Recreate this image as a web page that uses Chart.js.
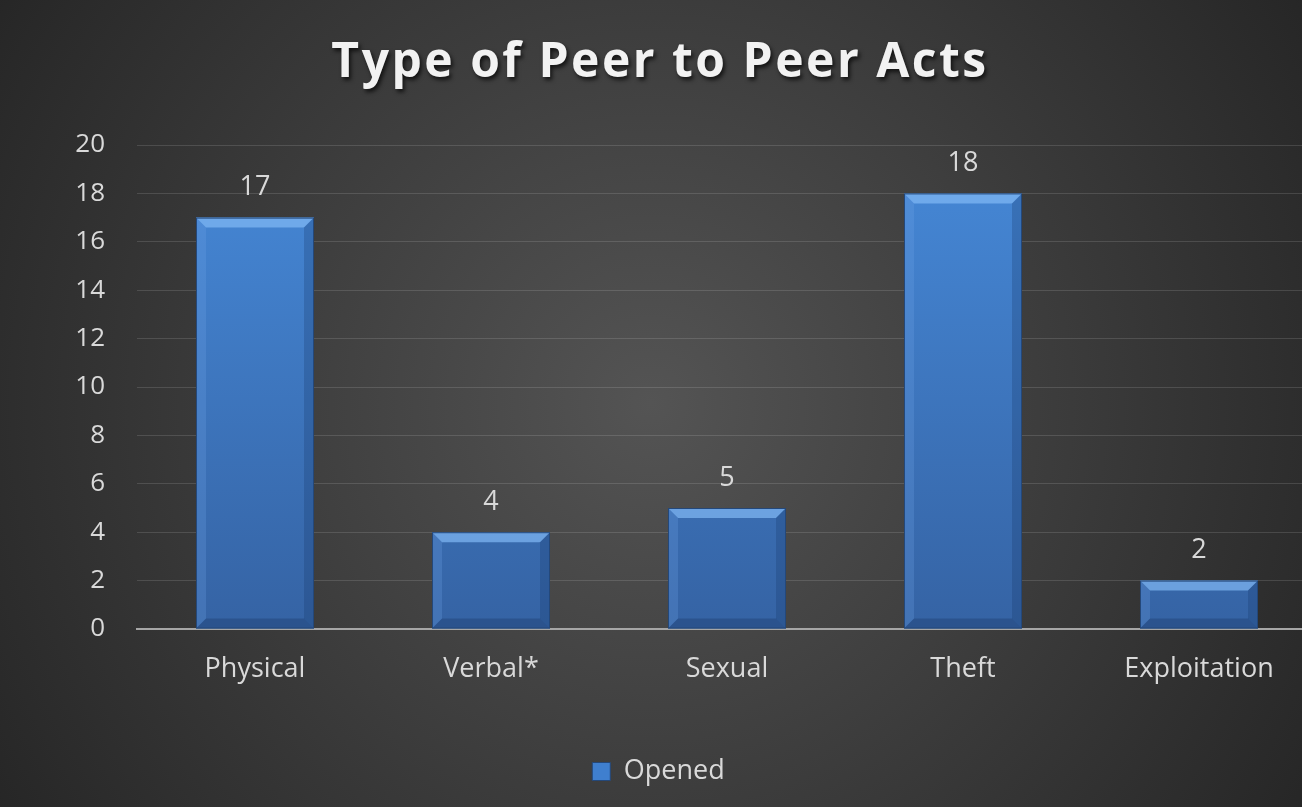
<!DOCTYPE html>
<html>
<head>
<meta charset="utf-8">
<script src="https://cdn.jsdelivr.net/npm/chart.js@4/dist/chart.umd.min.js"></script>
<style>
  html, body { margin: 0; padding: 0; background: #2b2b2b; overflow: hidden; }
  /* the plot runs a little past the right edge in the original, so the canvas is wider than the view */
  #wrap { width: 1302px; height: 807px; overflow: hidden; }
</style>
</head>
<body>
<div id="wrap"><canvas id="myChart" width="1317" height="807"></canvas></div>
<script>
// chart data
const chartTitle = 'Type of Peer to Peer Acts';
const categories = ['Physical', 'Verbal*', 'Sexual', 'Theft', 'Exploitation'];
const openedValues = [17, 4, 5, 18, 2];
const yTicks = [0, 2, 4, 6, 8, 10, 12, 14, 16, 18, 20];

const labelFont = '"Open Sans", sans-serif';
const viewW = 1302;

// dark radial background like the office theme
const bgPlugin = {
  id: 'bg',
  beforeDraw(chart) {
    const c = chart.ctx;
    const w = chart.width, h = chart.height;
    const g = c.createRadialGradient(viewW / 2, h / 2, 0, viewW / 2, h / 2, viewW * 0.62);
    g.addColorStop(0, '#545454');
    g.addColorStop(1, '#242424');
    c.save();
    c.fillStyle = g;
    c.fillRect(0, 0, w, h);
    c.restore();
  }
};

// title with a soft shadow (chart.js title can't do the shadow)
const titlePlugin = {
  id: 'shadowTitle',
  afterDraw(chart) {
    const c = chart.ctx;
    c.save();
    c.font = 'bold 48px ' + labelFont;
    c.letterSpacing = '2.5px';
    c.textAlign = 'center';
    c.textBaseline = 'middle';
    c.shadowColor = 'rgba(0,0,0,0.7)';
    c.shadowOffsetX = 2;
    c.shadowOffsetY = 3;
    c.shadowBlur = 4;
    c.fillStyle = '#f2f2f2';
    c.fillText(chartTitle, viewW / 2 + 9, 63);
    c.restore();
  }
};

// bevel + value labels on top of the bars
const barExtras = {
  id: 'barExtras',
  afterDatasetsDraw(chart) {
    const c = chart.ctx;
    const meta = chart.getDatasetMeta(0);
    meta.data.forEach((bar, i) => {
      const p = bar.getProps(['x', 'y', 'base', 'width'], true);
      const l = p.x - p.width / 2, r = p.x + p.width / 2;
      const t = p.y, b = p.base;
      const bv = Math.min(10, (b - t) / 2);
      c.save();
      // top bevel
      c.fillStyle = 'rgba(130,185,245,0.7)';
      c.beginPath();
      c.moveTo(l, t); c.lineTo(r, t); c.lineTo(r - bv, t + bv); c.lineTo(l + bv, t + bv);
      c.closePath(); c.fill();
      // left bevel
      c.fillStyle = 'rgba(110,165,230,0.25)';
      c.beginPath();
      c.moveTo(l, t); c.lineTo(l + bv, t + bv); c.lineTo(l + bv, b - bv); c.lineTo(l, b);
      c.closePath(); c.fill();
      // right bevel
      c.fillStyle = 'rgba(20,50,100,0.25)';
      c.beginPath();
      c.moveTo(r, t); c.lineTo(r - bv, t + bv); c.lineTo(r - bv, b - bv); c.lineTo(r, b);
      c.closePath(); c.fill();
      // bottom bevel
      c.fillStyle = 'rgba(20,45,90,0.3)';
      c.beginPath();
      c.moveTo(l, b); c.lineTo(l + bv, b - bv); c.lineTo(r - bv, b - bv); c.lineTo(r, b);
      c.closePath(); c.fill();
      c.strokeStyle = '#24487a';
      c.lineWidth = 1;
      c.strokeRect(l + 0.5, t + 0.5, p.width - 1, b - t - 1);

      // value label
      c.fillStyle = '#d9d9d9';
      c.font = '27px ' + labelFont;
      c.textAlign = 'center';
      c.textBaseline = 'middle';
      c.fillText(String(openedValues[i]), p.x, t - 30);
      c.restore();
    });
  }
};

const displayChart = () => {
  const ctx = document.getElementById('myChart').getContext('2d');

  new Chart(ctx, {
    type: 'bar',
    data: {
      labels: categories,
      datasets: [{
        label: 'Opened',
        data: openedValues,
        backgroundColor: (c) => {
          const area = c.chart.chartArea;
          if (!area) return '#4080d0';
          const g = c.chart.ctx.createLinearGradient(0, area.top, 0, area.bottom);
          g.addColorStop(0, '#4689d8');
          g.addColorStop(1, '#3563a4');
          return g;
        },
        borderWidth: 0,
        barPercentage: 0.625,
        categoryPercentage: 0.8
      }]
    },
    options: {
      responsive: false,
      animation: false,
      layout: { padding: { left: 0, right: 0, top: 145, bottom: 12 } },
      plugins: {
        title: { display: false },
        legend: {
          position: 'bottom',
          labels: {
            color: '#d9d9d9',
            font: { family: labelFont, size: 27 },
            boxWidth: 18,
            boxHeight: 18,
            padding: 10,
            generateLabels: () => [{
              text: 'Opened',
              fillStyle: '#3f7fcf',
              strokeStyle: '#24487a',
              lineWidth: 1,
              fontColor: '#d9d9d9'
            }]
          }
        },
        tooltip: { enabled: false }
      },
      scales: {
        x: {
          grid: { display: false, drawTicks: false },
          border: { display: true, color: '#a6a6a6', width: 2 },
          ticks: {
            color: '#d9d9d9',
            font: { family: labelFont, size: 27 },
            padding: 24
          },
          afterFit: (s) => { s.height = 119; }
        },
        y: {
          min: 0,
          max: 20,
          grid: { color: 'rgba(255,255,255,0.13)', drawTicks: false },
          border: { display: false },
          afterBuildTicks: (s) => { s.ticks = yTicks.map(v => ({ value: v })); },
          ticks: {
            color: '#d9d9d9',
            font: { family: labelFont, size: 26 },
            padding: 32
          },
          afterFit: (s) => { s.width = 137; }
        }
      }
    },
    plugins: [bgPlugin, barExtras, titlePlugin]
  });
};

displayChart();
</script>
</body>
</html>
